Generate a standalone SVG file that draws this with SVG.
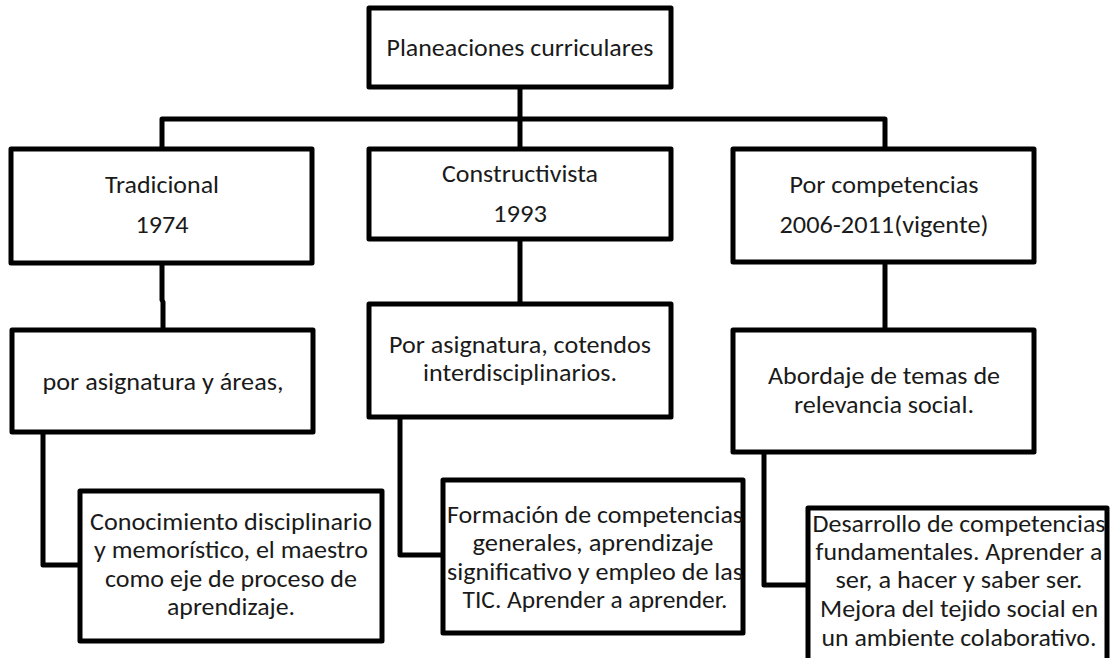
<svg xmlns="http://www.w3.org/2000/svg" width="1110" height="658" viewBox="0 0 1110 658">
<style>
.box{fill:#fff;stroke:#000;stroke-width:5;stroke-linejoin:round}
.conn{fill:none;stroke:#000;stroke-width:5;stroke-linejoin:round}
text{font-family:"Carlito","Calibri","Open Sans",sans-serif;font-size:25px;fill:#1a1a1a;text-anchor:middle}
.sm{font-size:24px}
</style>
<rect width="1110" height="658" fill="#fff"/>
<g id="connectors">
<path class="conn" d="M520,87 V119"/>
<path class="conn" d="M162,149 V119 H885 V149"/>
<path class="conn" d="M520,119 V149"/>
<path class="conn" d="M162,263 V300 L163,302 V330"/>
<path class="conn" d="M520,239 V304"/>
<path class="conn" d="M885,262 V330"/>
<path class="conn" d="M43,432 V565 H80"/>
<path class="conn" d="M400,417 V555 H443"/>
<path class="conn" d="M764,452 V585 H808"/>
</g>
<g id="root">
<rect class="box" x="369" y="8" width="302" height="79"/>
<text x="520" y="56" textLength="267" lengthAdjust="spacingAndGlyphs">Planeaciones curriculares</text>
</g>
<g id="tradicional">
<rect class="box" x="11" y="149" width="301" height="114"/>
<text x="162" y="193" textLength="114" lengthAdjust="spacingAndGlyphs">Tradicional</text>
<text x="162" y="233" textLength="53" lengthAdjust="spacingAndGlyphs">1974</text>
</g>
<g id="constructivista">
<rect class="box" x="369" y="149" width="302" height="90"/>
<text x="520" y="182" textLength="156" lengthAdjust="spacingAndGlyphs">Constructivista</text>
<text x="520" y="222" textLength="54" lengthAdjust="spacingAndGlyphs">1993</text>
</g>
<g id="competencias">
<rect class="box" x="733" y="149" width="301" height="113"/>
<text x="884" y="193" textLength="189" lengthAdjust="spacingAndGlyphs">Por competencias</text>
<text x="884" y="233" textLength="209" lengthAdjust="spacingAndGlyphs">2006-2011(vigente)</text>
</g>
<g id="trad-asignatura">
<rect class="box" x="12" y="330" width="301" height="102"/>
<text x="163" y="390" textLength="241" lengthAdjust="spacingAndGlyphs">por asignatura y áreas,</text>
</g>
<g id="const-asignatura">
<rect class="box" x="369" y="304" width="302" height="113"/>
<text x="520" y="353" textLength="262" lengthAdjust="spacingAndGlyphs">Por asignatura, cotendos</text>
<text x="520" y="381" textLength="194" lengthAdjust="spacingAndGlyphs">interdisciplinarios.</text>
</g>
<g id="comp-abordaje">
<rect class="box" x="733" y="330" width="301" height="122"/>
<text x="884" y="384" textLength="232" lengthAdjust="spacingAndGlyphs">Abordaje de temas de</text>
<text x="884" y="413" textLength="180" lengthAdjust="spacingAndGlyphs">relevancia social.</text>
</g>
<g id="trad-conocimiento">
<rect class="box" x="80" y="491" width="302" height="150"/>
<text x="231" y="530" textLength="282" lengthAdjust="spacingAndGlyphs">Conocimiento disciplinario</text>
<text x="231" y="558" textLength="274" lengthAdjust="spacingAndGlyphs">y memorístico, el maestro</text>
<text x="231" y="587" textLength="252" lengthAdjust="spacingAndGlyphs">como eje de proceso de</text>
<text x="231" y="615" textLength="128" lengthAdjust="spacingAndGlyphs">aprendizaje.</text>
</g>
<g id="const-formacion">
<rect class="box" x="443" y="480" width="300" height="153"/>
<text x="595" y="523" textLength="296" lengthAdjust="spacingAndGlyphs">Formación de competencias</text>
<text x="593" y="551" textLength="241" lengthAdjust="spacingAndGlyphs">generales, aprendizaje</text>
<text x="595" y="580" textLength="296" lengthAdjust="spacingAndGlyphs">significativo y empleo de las</text>
<text x="595" y="608" textLength="265" lengthAdjust="spacingAndGlyphs">TIC. Aprender a aprender.</text>
</g>
<g id="comp-desarrollo">
<rect class="box" x="808" y="508" width="299" height="170"/>
<text class="sm" x="959" y="532" textLength="293" lengthAdjust="spacingAndGlyphs">Desarrollo de competencias</text>
<text class="sm" x="959" y="560" textLength="287" lengthAdjust="spacingAndGlyphs">fundamentales. Aprender a</text>
<text class="sm" x="959" y="588" textLength="247" lengthAdjust="spacingAndGlyphs">ser, a hacer y saber ser.</text>
<text class="sm" x="959" y="617" textLength="278" lengthAdjust="spacingAndGlyphs">Mejora del tejido social en</text>
<text class="sm" x="959" y="646" textLength="275" lengthAdjust="spacingAndGlyphs">un ambiente colaborativo.</text>
</g>
</svg>
